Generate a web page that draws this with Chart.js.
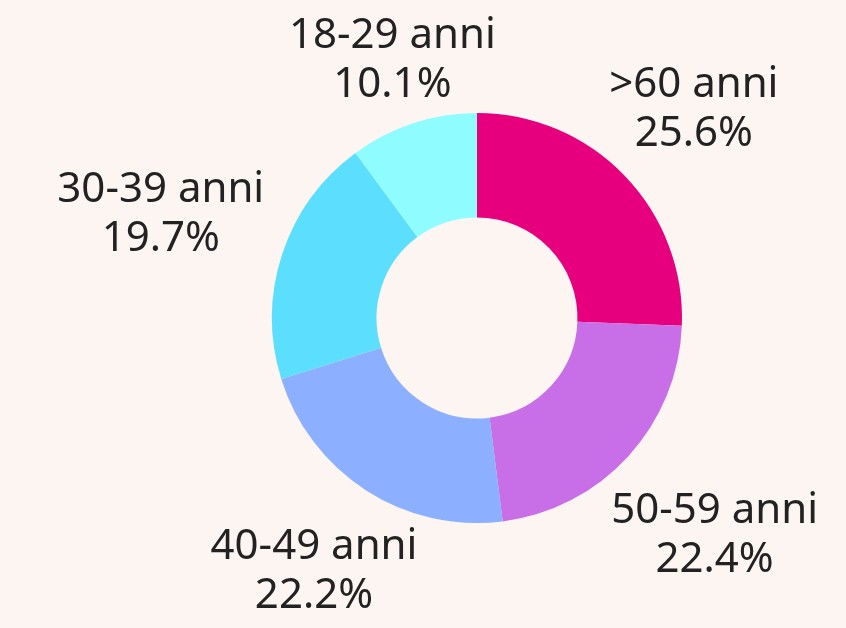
<!DOCTYPE html>
<html>
<head>
<meta charset="utf-8">
<script src="https://cdn.jsdelivr.net/npm/chart.js@4.4.1/dist/chart.umd.min.js"></script>
<style>
  html, body { margin: 0; padding: 0; background: #fdf5f2; }
  #wrap { width: 846px; height: 628px; }
</style>
</head>
<body>
<div id="wrap"><canvas id="c" width="846" height="628"></canvas></div>
<script>
const categories = ['>60 anni', '50-59 anni', '40-49 anni', '30-39 anni', '18-29 anni'];
const shares = [25.6, 22.4, 22.2, 19.7, 10.1];
const colors = ['#e6007e', '#c86ee6', '#8cb0ff', '#5cdfff', '#8ffdff'];

const FONT = '42px "Noto Sans"';
const LINE_H = 49;

// Two-line labels (name + percentage) placed outside each arc along its mid-angle
const outsideLabels = {
  id: 'outsideLabels',
  afterDatasetsDraw(chart) {
    const { ctx } = chart;
    const meta = chart.getDatasetMeta(0);
    ctx.save();
    ctx.font = FONT;
    ctx.fillStyle = '#222222';
    ctx.textAlign = 'center';
    ctx.textBaseline = 'middle';
    meta.data.forEach((arc, i) => {
      const { x, y, startAngle, endAngle, outerRadius } = arc.getProps(['x', 'y', 'startAngle', 'endAngle', 'outerRadius'], true);
      const mid = (startAngle + endAngle) / 2;
      const dx = Math.cos(mid), dy = Math.sin(mid);
      const lines = [categories[i], shares[i].toFixed(1) + '%'];
      const w = Math.max(...lines.map(t => ctx.measureText(t).width));
      const hw = w / 2, hh = LINE_H;
      const ext = Math.min(Math.abs(dx) > 1e-6 ? hw / Math.abs(dx) : Infinity,
                           Math.abs(dy) > 1e-6 ? hh / Math.abs(dy) : Infinity);
      const gap = 30 + 14 * dy + 7 * dx;
      const r = outerRadius + gap + ext;
      const cx = x + dx * r, cy = y + dy * r;
      ctx.fillText(lines[0], cx, cy - LINE_H / 2);
      ctx.fillText(lines[1], cx, cy + LINE_H / 2);
    });
    ctx.restore();
  }
};

new Chart(document.getElementById('c'), {
  type: 'doughnut',
  data: {
    labels: categories,
    datasets: [{
      data: shares,
      backgroundColor: colors,
      borderWidth: 0
    }]
  },
  options: {
    responsive: false,
    animation: false,
    cutout: '49%',
    layout: { padding: { top: 113, bottom: 105, left: 108, right: 0 } },
    plugins: {
      legend: { display: false },
      tooltip: { enabled: false }
    }
  },
  plugins: [outsideLabels]
});
</script>
</body>
</html>
